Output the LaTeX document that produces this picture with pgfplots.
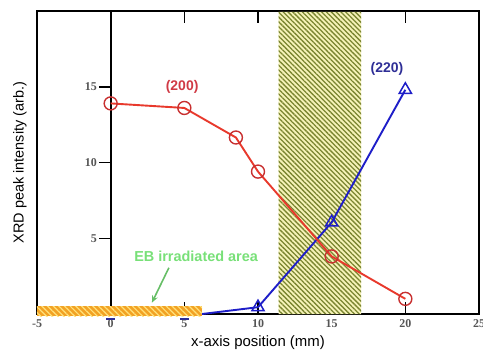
\documentclass[border=0pt]{standalone}
\usepackage{fontspec}
\setmainfont{Liberation Sans}
\newfontfamily\tickfont{Liberation Serif}
\usepackage{pgfplots}
\pgfplotsset{compat=1.18}
\usetikzlibrary{patterns.meta,arrows.meta}
\definecolor{redline}{HTML}{E8392C}
\definecolor{markred}{HTML}{C83030}
\definecolor{blueline}{HTML}{1E1EC8}
\definecolor{lab200}{HTML}{D03A45}
\definecolor{lab220}{HTML}{2E2E96}
\definecolor{hatchbg}{HTML}{F6F3B8}
\definecolor{hatchfg}{HTML}{7A8530}
\definecolor{barorange}{HTML}{F2A224}
\definecolor{barlight}{HTML}{FFE27A}
\definecolor{ebgreen}{HTML}{78E078}
\definecolor{ticktext}{HTML}{555555}
\begin{document}
\begin{tikzpicture}[x=1bp,y=1bp]
\begin{axis}[
  at={(0,0)}, anchor=south west,
  scale only axis, width=442bp, height=303bp,
  xmin=-5, xmax=25, ymin=0, ymax=20,
  clip=false,
  xtick={-5,0,5,10,15,20,25},
  ytick=\empty,
  tick align=inside,
  major tick length=12bp,
  tick style={line width=1.5bp, black},
  axis line style={line width=1.9bp},
  /pgf/number format/assume math mode=true,
  xticklabel={\pgfmathprintnumber{\tick}},
  xticklabel style={font=\tickfont\bfseries\fontsize{12}{13}\selectfont, text=ticktext, yshift=-2.5bp},
  xlabel={x-axis position (mm)},
  xlabel style={font=\fontsize{15}{18}\selectfont, at={(axis description cs:0.5,0)}, anchor=center, yshift=-29bp},
  ylabel={XRD peak intensity (arb.)},
  ylabel style={font=\fontsize{14.5}{17}\selectfont, at={(axis description cs:0,0.5)}, anchor=center, yshift=17bp},
]
% hatched region
\addplot[draw=none, fill=hatchbg,
  postaction={pattern={Lines[angle=-45,distance=3.4bp,line width=1.3bp]}, pattern color=hatchfg}]
  coordinates {(11.4,0) (11.4,19.95) (17,19.95) (17,0)} \closedcycle;
% y axis at x=0
\draw[line width=1.9bp] (axis cs:0,0) -- (axis cs:0,20);
\draw[line width=1.5bp] (axis cs:0,5) -- ([xshift=-12bp]axis cs:0,5) node[left, inner sep=1bp, text=ticktext, font=\tickfont\bfseries\fontsize{12}{13}\selectfont]{5};
\draw[line width=1.5bp] (axis cs:0,10) -- ([xshift=-12bp]axis cs:0,10) node[left, inner sep=1bp, text=ticktext, font=\tickfont\bfseries\fontsize{12}{13}\selectfont]{10};
\draw[line width=1.5bp] (axis cs:0,15) -- ([xshift=-12bp]axis cs:0,15) node[left, inner sep=1bp, text=ticktext, font=\tickfont\bfseries\fontsize{12}{13}\selectfont]{15};
% orange EB bar
\addplot[draw=none, fill=barorange,
  postaction={pattern={Lines[angle=-45,distance=4bp,line width=1.2bp]}, pattern color=barlight}]
  coordinates {(-5,-0.15) (-5,0.5) (6.2,0.5) (6.2,-0.15)} -- cycle;
% small blue marks
\draw[lab220, line width=2bp] (axis cs:-0.3,-0.3) -- (axis cs:0.3,-0.3);
\draw[lab220, line width=2bp] (axis cs:4.7,-0.3) -- (axis cs:5.3,-0.3);
% (220)
\addplot[blueline, line width=1.9bp, mark=triangle, mark size=7bp, mark indices={2,3,4},
  mark options={line width=1.5bp, solid, fill=none}]
  coordinates {(6.2,0) (10,0.45) (15,6.05) (20,14.8)};
% (200)
\addplot[redline, line width=1.9bp, mark=o, mark size=6.5bp,
  mark options={line width=1.4bp, draw=markred, fill=none}]
  coordinates {(0,13.9) (5,13.6) (8.5,11.65) (10,9.4) (15,3.8) (20,1.0)};
\node[text=lab200, font=\bfseries\fontsize{14}{16}\selectfont] at (axis cs:4.85,15.0) {(200)};
\node[text=lab220, font=\bfseries\fontsize{14}{16}\selectfont] at (axis cs:18.75,16.2) {(220)};
\node[text=ebgreen, font=\bfseries\fontsize{14.5}{17}\selectfont] at (axis cs:5.8,3.8) {EB irradiated area};
\draw[ebgreen!85!black, line width=1.6bp, -{Stealth[length=7bp,width=6bp]}] (axis cs:3.95,3.05) -- (axis cs:2.8,0.75);
\end{axis}
\pgfresetboundingbox
\path[use as bounding box] (-37,-35) rectangle (446,314);
\end{tikzpicture}
\end{document}
